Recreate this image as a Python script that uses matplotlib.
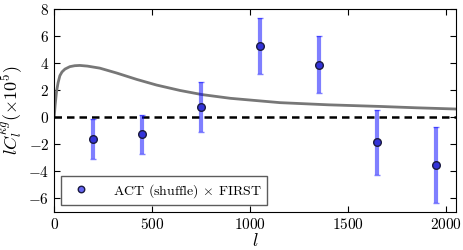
import matplotlib
matplotlib.use("Agg")

import matplotlib.pyplot as plt

# band powers (x 1e5)
ell_bins = [200, 450, 750, 1050, 1350, 1650, 1950]
cl_data = [-1.63, -1.27, 0.75, 5.27, 3.88, -1.85, -3.51]
cl_err = [1.47, 1.43, 1.85, 2.07, 2.1, 2.42, 2.8]

# theory curve
ell_theory = [0, 5, 12, 20, 29, 40, 55, 80, 105, 131, 170, 233, 319, 421, 523,
              643, 753, 900, 1153, 1400, 1663, 1850, 2050]
cl_theory = [0.0, 0.9, 1.9, 2.55, 3.07, 3.35, 3.56, 3.74, 3.81, 3.83, 3.78,
             3.63, 3.27, 2.8, 2.38, 1.98, 1.68, 1.4, 1.08, 0.92, 0.8, 0.7, 0.61]

plt.rcParams["font.family"] = "serif"
plt.rcParams["font.serif"] = ["cmr10"]
plt.rcParams["mathtext.fontset"] = "cm"
plt.rcParams["axes.formatter.use_mathtext"] = True
plt.rcParams["axes.unicode_minus"] = True

fig = plt.figure(figsize=(4.63, 2.5), dpi=100)
ax = fig.add_axes([0.117, 0.152, 0.867, 0.812])

ax.plot(ell_theory, cl_theory, color="#777777", lw=2)
ax.axhline(0, color="k", ls="--", lw=1.8, dashes=(3, 2))
ax.errorbar(ell_bins, cl_data, yerr=cl_err, fmt="none", ecolor="blue", alpha=0.5,
            elinewidth=3, capsize=2, capthick=1)
ax.plot(ell_bins, cl_data, "o", ms=5.5, mfc=(0.2, 0.2, 0.85), mec="#1a1a40", mew=1,
        label=r"ACT (shuffle) $\times$ FIRST")

ax.set_xlim(0, 2050)
ax.set_ylim(-7, 8)
ax.set_xticks([0, 500, 1000, 1500, 2000])
ax.set_yticks([-6, -4, -2, 0, 2, 4, 6, 8])
ax.tick_params(direction="in", top=True, right=True, labelsize=11, length=4)
ax.set_xlabel(r"$l$", fontsize=13, labelpad=0)
ax.set_ylabel(r"$lC_l^{\kappa g}(\times 10^5)$", fontsize=13, labelpad=2)

leg = ax.legend(loc="lower left", numpoints=1, fancybox=False, fontsize=10,
                borderaxespad=0.5, handletextpad=1.3, markerscale=0.85)
leg.get_frame().set_edgecolor("#333333")
leg.legend_handles[0].set_markerfacecolor((0.4, 0.4, 0.95))

fig.savefig("out.png", dpi=100)
